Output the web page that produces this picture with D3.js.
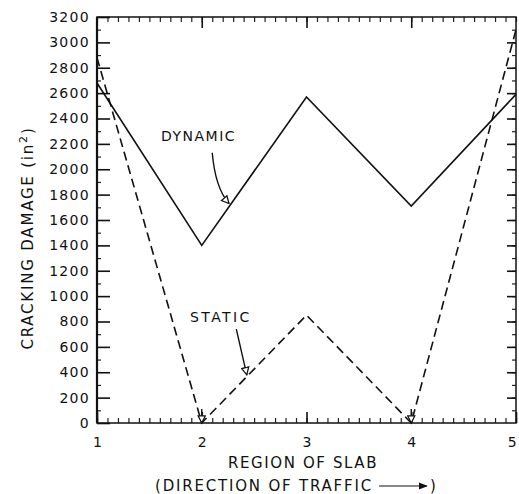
<!DOCTYPE html>
<html>
<head>
<meta charset="utf-8">
<script src="https://d3js.org/d3.v7.min.js"></script>
<style>
  body { margin: 0; background: #fff; }
  svg text { font-family: "DejaVu Sans", sans-serif; fill: #111; }
</style>
</head>
<body>
<div id="chart"></div>
<script>
// Regions along the slab and the damage.
const regions = [1, 2, 3, 4, 5];
const dynamicDamage = [2680, 1400, 2570, 1710, 2590];
const staticDamage = [2880, 0, 850, 0, 3100];
const yTickLabels = d3.range(0, 3201, 200);

// Size of the picture and the frame of the plot.
const totalWidth = 519, totalHeight = 494;
const margin = { top: 17, right: 3, bottom: 71, left: 97 };
const width = totalWidth - margin.left - margin.right;
const height = totalHeight - margin.top - margin.bottom;

let svg = d3.select("#chart")
    .append("svg")
    .attr("width", totalWidth)
    .attr("height", totalHeight)
    .append("g")
    .attr("transform", `translate(${margin.left}, ${margin.top})`);

// Scales.
let x = d3.scaleLinear().domain([1, 5]).range([0, width]);
let y = d3.scaleLinear().domain([0, 3200]).range([height, 0]);

// Minor ticks all round the frame, pointing inward.
svg.append("g")
    .attr("class", "minor")
    .attr("transform", `translate(0, ${height})`)
    .call(d3.axisBottom(x).tickValues(d3.range(1, 5.001, 0.1)).tickSize(-5).tickFormat(""));
svg.append("g")
    .attr("class", "minor")
    .call(d3.axisTop(x).tickValues(d3.range(1, 5.001, 0.1)).tickSize(-5).tickFormat(""));
svg.append("g")
    .attr("class", "minor")
    .call(d3.axisLeft(y).tickValues(d3.range(100, 3200, 200)).tickSize(-4).tickFormat(""));
svg.append("g")
    .attr("class", "minor")
    .attr("transform", `translate(${width}, 0)`)
    .call(d3.axisRight(y).tickValues(d3.range(100, 3200, 100)).tickSize(-4).tickFormat(""));

// Major ticks with labels.
svg.append("g")
    .attr("class", "major")
    .call(d3.axisLeft(y).tickValues(yTickLabels).tickSize(-13).tickPadding(7).tickFormat(d3.format("d")))
    .selectAll("text")
        .style("font-size", "14px")
        .style("letter-spacing", "1.3px");
svg.append("g")
    .attr("class", "major")
    .attr("transform", `translate(${width}, 0)`)
    .call(d3.axisRight(y).tickValues(d3.range(200, 3200, 200)).tickSize(-9).tickFormat(""));
let bottomAxis = svg.append("g")
    .attr("class", "major")
    .attr("transform", `translate(0, ${height})`)
    .call(d3.axisBottom(x).tickValues(regions).tickSize(-11).tickPadding(14).tickFormat(d3.format("d")));
bottomAxis.selectAll("text")
    .style("font-size", "14px")
    .attr("dx", function(d) { return d === 5 ? "-0.3em" : 0; });
svg.append("g")
    .attr("class", "major")
    .call(d3.axisTop(x).tickValues(regions.slice(1, 4)).tickSize(-11).tickFormat(""));

// Clean up the axis styles.
svg.selectAll(".domain").remove();
svg.selectAll(".minor line").attr("stroke", "#222").attr("stroke-width", 1.2);
svg.selectAll(".major line").attr("stroke", "#111").attr("stroke-width", 1.6);

// Frame of the plot.
svg.append("rect")
    .attr("width", width)
    .attr("height", height)
    .attr("fill", "none")
    .attr("stroke", "#111")
    .attr("stroke-width", 1.5);
svg.append("line")
    .attr("x1", 0).attr("x2", 0)
    .attr("y1", 0).attr("y2", height)
    .attr("stroke", "#111")
    .attr("stroke-width", 2.2);

// The two damage lines.
let line = d3.line()
    .x(function(d, i) { return x(regions[i]); })
    .y(function(d) { return y(d); });

svg.append("path")
    .datum(dynamicDamage)
    .attr("d", line)
    .attr("fill", "none")
    .attr("stroke", "#111")
    .attr("stroke-width", 1.6);

svg.append("path")
    .datum(staticDamage)
    .attr("d", line)
    .attr("fill", "none")
    .attr("stroke", "#111")
    .attr("stroke-width", 1.6)
    .attr("stroke-dasharray", "9,5");

// Arrow heads used by the labels.
let defs = d3.select("svg").append("defs");
defs.append("marker")
    .attr("id", "open-head")
    .attr("viewBox", "0 0 10 10")
    .attr("refX", 9).attr("refY", 5)
    .attr("markerWidth", 9).attr("markerHeight", 9)
    .attr("markerUnits", "userSpaceOnUse")
    .attr("orient", "auto")
    .append("path")
    .attr("d", "M1,1 L9,5 L1,9 Z")
    .attr("fill", "#fff")
    .attr("stroke", "#111")
    .attr("stroke-width", 1.4);
defs.append("marker")
    .attr("id", "solid-head")
    .attr("viewBox", "0 0 10 10")
    .attr("refX", 9).attr("refY", 5)
    .attr("markerWidth", 9).attr("markerHeight", 9)
    .attr("markerUnits", "userSpaceOnUse")
    .attr("orient", "auto")
    .append("path")
    .attr("d", "M0,1 L10,5 L0,9 Z")
    .attr("fill", "#111");

// Series labels with their pointers.
svg.append("text")
    .attr("x", 161 - margin.left)
    .attr("y", y(2220))
    .style("font-size", "14px")
    .style("letter-spacing", "1.5px")
    .text("DYNAMIC");
svg.append("path")
    .attr("d", `M${x(2.1)},${y(2130)} Q${x(2.13)},${y(1850)} ${x(2.26)},${y(1730)}`)
    .attr("fill", "none")
    .attr("stroke", "#111")
    .attr("stroke-width", 1.4)
    .attr("marker-end", "url(#open-head)");

svg.append("text")
    .attr("x", 190 - margin.left)
    .attr("y", y(795))
    .style("font-size", "14px")
    .style("letter-spacing", "2.4px")
    .text("STATIC");
svg.append("path")
    .attr("d", `M${x(2.33)},${y(740)} L${x(2.43)},${y(380)}`)
    .attr("fill", "none")
    .attr("stroke", "#111")
    .attr("stroke-width", 1.4)
    .attr("marker-end", "url(#open-head)");

// Small pointers at the bottoms of the static line.
[2, 4].forEach(function(r) {
    svg.append("path")
        .attr("d", `M${x(r)},${y(110)} L${x(r)},${y(0)}`)
        .attr("stroke", "#111")
        .attr("stroke-width", 1.4)
        .attr("marker-end", "url(#open-head)");
});

// Axis titles.
svg.append("text")
    .attr("transform", `translate(${28 - margin.left}, ${238 - margin.top}) rotate(-90)`)
    .attr("text-anchor", "middle")
    .attr("dy", "0.35em")
    .style("font-size", "15px")
    .style("letter-spacing", "1.8px")
    .html('CRACKING DAMAGE (in<tspan dy="-6" font-size="11px">2</tspan><tspan dy="6">)</tspan>');

svg.append("text")
    .attr("x", 303 - margin.left)
    .attr("y", 468 - margin.top)
    .attr("text-anchor", "middle")
    .style("font-size", "15px")
    .style("letter-spacing", "1.6px")
    .text("REGION OF SLAB");

let traffic = svg.append("text")
    .attr("x", 155 - margin.left)
    .attr("y", 491 - margin.top)
    .style("font-size", "15px")
    .style("letter-spacing", "1.8px")
    .text("(DIRECTION OF TRAFFIC");
let trafficEnd = 155 - margin.left + traffic.node().getComputedTextLength();
svg.append("path")
    .attr("d", `M${trafficEnd + 6},${491 - margin.top - 5} L${trafficEnd + 54},${491 - margin.top - 5}`)
    .attr("stroke", "#111")
    .attr("stroke-width", 1.2)
    .attr("marker-end", "url(#solid-head)");
svg.append("text")
    .attr("x", trafficEnd + 57)
    .attr("y", 491 - margin.top)
    .style("font-size", "15px")
    .text(")");
</script>
</body>
</html>
